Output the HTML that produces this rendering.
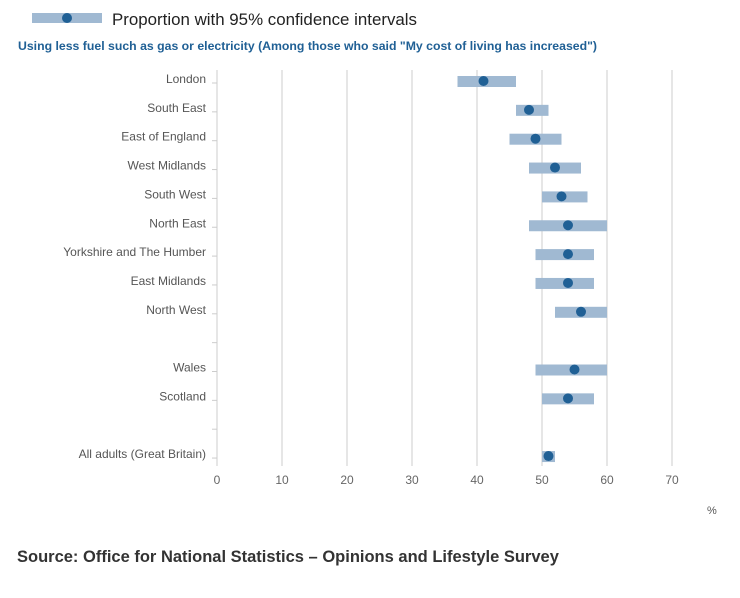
<!DOCTYPE html>
<html><head><meta charset="utf-8"><style>
body{margin:0;background:#fff;font-family:"Liberation Sans",sans-serif}
</style></head><body>
<svg id="c" width="740" height="593" xmlns="http://www.w3.org/2000/svg">
<g>
<rect x="32" y="13" width="70" height="10" fill="#a0b9d2"/>
<circle cx="67" cy="18" r="5" fill="#206095"/>
<text x="112" y="25" font-size="16.5" fill="#222" textLength="305" lengthAdjust="spacingAndGlyphs">Proportion with 95% confidence intervals</text>
</g>
<text x="18" y="50" font-size="12" font-weight="bold" fill="#206095" textLength="579" lengthAdjust="spacingAndGlyphs">Using less fuel such as gas or electricity (Among those who said "My cost of living has increased")</text>
<g id="grid"></g><g id="rows"></g><g id="marks"></g>
<text x="707" y="514" font-size="11" fill="#555">%</text>
<text x="17" y="562" font-size="16.5" font-weight="bold" fill="#333">Source: Office for National Statistics – Opinions and Lifestyle Survey</text>
</svg>
<script>
const categories=["London","South East","East of England","West Midlands","South West","North East","Yorkshire and The Humber","East Midlands","North West","","Wales","Scotland","","All adults (Great Britain)"];
const estimates=[41,48,49,52,53,54,54,54,56,null,55,54,null,51];
const lower=[37,46,45,48,50,48,49,49,52,null,49,50,null,50];
const upper=[46,51,53,56,57,60,58,58,60,null,60,58,null,52];
const ticks=[0,10,20,30,40,50,60,70];
const NS="http://www.w3.org/2000/svg";
const x=v=>217+v*6.5;
const y=i=>81+i*28.85;
function mk(t,a,p){const e=document.createElementNS(NS,t);for(const k in a)e.setAttribute(k,a[k]);p.appendChild(e);return e;}
const G=document.getElementById('grid'),R=document.getElementById('rows'),M=document.getElementById('marks');
ticks.forEach(t=>{
 const l=mk('line',{x1:x(t),x2:x(t),y1:70,y2:466,stroke:'#ccc','stroke-width':1},G);
 
 
 const tx=mk('text',{x:x(t),y:484,'font-size':12,fill:'#666','text-anchor':'middle'},G);
 tx.textContent=t;
 
 
});
categories.forEach((c,i)=>{
 const tk=mk('line',{x1:212,x2:217,y1:y(i)+2,y2:y(i)+2,stroke:'#ccc'},R);
 
 
 if(c){const t=mk('text',{x:206,y:y(i)+2,'font-size':12,fill:'#555','text-anchor':'end'},R);
 t.textContent=c;
 
 }
 if(estimates[i]!=null){
  const b=mk('rect',{x:x(lower[i]),y:y(i)-5,width:x(upper[i])-x(lower[i]),height:11,fill:'#a0b9d2'},M);
  
  
  const d=mk('circle',{cx:x(estimates[i]),cy:y(i),r:5,fill:'#206095'},M);
  
  
 }
});
</script>
</body></html>
